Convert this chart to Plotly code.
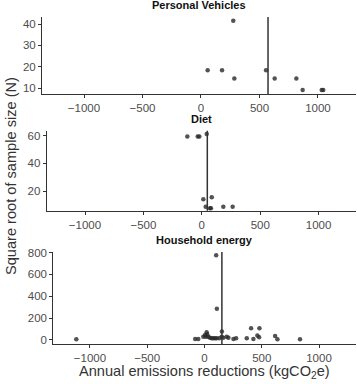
import plotly.graph_objects as go

# Personal vehicles
pv_x = [57, 180, 276, 285, 556, 630, 815, 869, 1032, 1045]
pv_y = [18.3, 18.3, 41.5, 14.5, 18.3, 14.5, 14.5, 9.1, 9.1, 9.1]
pv_mean = 573

# Diet
diet_x = [-124, -35, -21, 42, 13, 85, 33, 70, 78, 184, 264]
diet_y = [59.3, 59.3, 59.3, 61.2, 14.0, 15.5, 8.7, 7.6, 7.6, 8.7, 8.7]
diet_mean = 47

# Household energy
he_x = [-1119, 102, 108, 152, 407, 480, 462, 477, 369, 427, 617, 637, 834,
        -81, -54, -10, 5, 19, 24, 13, 33, 48, 63, 77, 92, 106, 129, 150,
        164, 194, 209, 253, 276]
he_y = [6, 775, 285, 77, 108, 108, 40, 25, 16, 9, 37, 6, 6,
        9, 9, 30, 46, 71, 53, 30, 30, 21, 16, 16, 16, 16, 16, 30,
        21, 30, 21, 9, 16]
he_mean = 152

titles = ["Personal Vehicles", "Diet", "Household energy"]
x_ticks = [-1000, -500, 0, 500, 1000]
y_ticks = [[10, 20, 30, 40], [20, 40, 60], [0, 200, 400, 600, 800]]

W, H = 357, 384
# pixel boxes (left, right, top, bottom) for each panel
boxes = [(42, 356, 17, 94), (46.7, 356, 130.7, 210.7), (53.3, 356, 252, 344.3)]
x_ranges = [[-1359, 1325], [-1328, 1320], [-1320, 1323]]
y_ranges = [[7.2, 43.3], [5.8, 63.5], [-40, 805]]

panels = [(pv_x, pv_y, pv_mean), (diet_x, diet_y, diet_mean), (he_x, he_y, he_mean)]

fig = go.Figure()
font = "Liberation Sans, Arial, sans-serif"
axis_common = dict(
    showgrid=False, zeroline=False, showline=True, linecolor="#333333",
    linewidth=1, ticks="outside", ticklen=3, tickcolor="#333333",
    automargin=False,
    tickfont=dict(family=font, size=11.5, color="#4d4d4d"),
)

for i, (xs, ys, m) in enumerate(panels):
    n = "" if i == 0 else str(i + 1)
    l, r, t, b = boxes[i]
    fig.add_trace(go.Scatter(
        x=xs, y=ys, mode="markers", xaxis="x" + n, yaxis="y" + n,
        marker=dict(size=4.5, color="rgba(40,40,40,0.8)"),
        showlegend=False,
    ))
    fig.update_layout({
        "xaxis" + n: dict(axis_common, domain=[l / W, r / W], range=x_ranges[i],
                          tickvals=x_ticks, anchor="y" + n),
        "yaxis" + n: dict(axis_common, domain=[1 - b / H, 1 - t / H], range=y_ranges[i],
                          tickvals=y_ticks[i], anchor="x" + n),
    })
    fig.add_shape(type="line", xref="x" + n, yref="y" + n + " domain",
                  x0=m, x1=m, y0=0, y1=1,
                  line=dict(color="#333333", width=1.5))
    fig.add_annotation(text="<b>" + titles[i] + "</b>", xref="paper", yref="paper",
                       x=(l + r) / 2 / W, y=1 - (t - 12) / H, showarrow=False,
                       xanchor="center", yanchor="middle",
                       font=dict(family=font, size=11, color="#111111"))

fig.add_annotation(text="Annual emissions reductions (kgCO<sub>2</sub>e)",
                   xref="paper", yref="paper", x=204 / W, y=1 - 372 / H,
                   xanchor="center", yanchor="middle",
                   showarrow=False, font=dict(family=font, size=14.6, color="#333333"))
fig.add_annotation(text="Square root of sample size (N)", textangle=-90,
                   xref="paper", yref="paper", x=11 / W, y=1 - 176 / H,
                   xanchor="center", yanchor="middle",
                   showarrow=False, font=dict(family=font, size=14.6, color="#333333"))

fig.update_layout(width=W, height=H,
                  margin=dict(l=0, r=0, t=0, b=0, autoexpand=False),
                  plot_bgcolor="white", paper_bgcolor="white")

fig.write_html("out.html", config={"displayModeBar": False},
               post_script="document.body.style.margin='0';")
